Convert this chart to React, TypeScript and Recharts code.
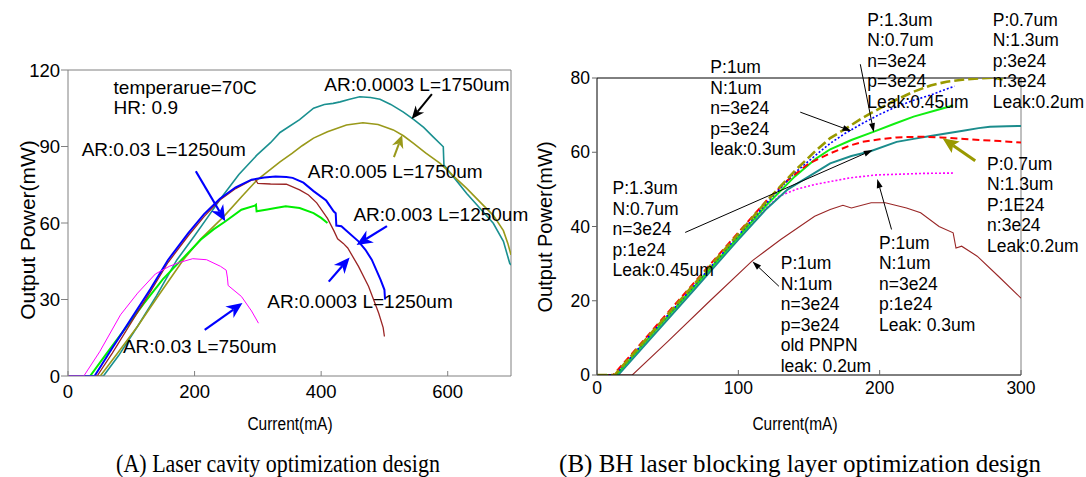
import { Line, LineChart, ReferenceDot, ReferenceLine, XAxis, YAxis } from "recharts";

const font = "'Liberation Sans', Arial, sans-serif";

// (A) laser cavity: current (mA) vs output power (mW)
const cavityTicksX = [0, 200, 400, 600];
const cavityTicksY = [0, 30, 60, 90, 120];

const ar0003L1750: [number, number][] = [
  [0, 0], [56, 0], [80, 8], [110, 19.5], [140, 31.5], [172, 45.5], [200, 55], [220, 62], [241, 69.5],
  [270, 79], [298, 86.5], [320, 91.5], [335, 95.5], [366, 100.5], [388, 105], [405, 106.5], [419, 106.9],
  [430, 107.5], [445, 108.5], [461, 109.5], [478, 109.2], [493, 108.5], [510, 106.5], [530, 103.5],
  [546, 100.6], [562, 97.5], [577, 93.8], [593, 89.9], [594, 82.7], [611, 77.5], [630, 71.6], [652, 65.5],
  [672, 59.9], [688, 52.8], [698, 44.2], [700, 43.5]
];
const ar005L1750: [number, number][] = [
  [0, 0], [51, 0], [80, 9.5], [110, 19.5], [140, 30.5], [182, 45.5], [210, 53.8], [246, 62.5], [275, 70.5],
  [298, 76.7], [320, 81], [335, 84], [354, 87.3], [370, 90.3], [388, 93.3], [410, 95.8], [440, 98.4],
  [466, 99.3], [490, 98.6], [514, 96.5], [530, 94.2], [546, 91.2], [565, 87.5], [588, 83.4], [610, 78.2],
  [630, 73.6], [652, 68], [672, 63], [688, 57], [695, 52], [700, 47.5]
];
const ar003L1250: [number, number][] = [
  [0, 0], [42, 0], [70, 11], [100, 22.5], [130, 34], [158, 45.5], [190, 56], [215, 63.5], [240, 69.5],
  [265, 74], [290, 77], [310, 77.8], [328, 78.2], [345, 78], [355, 77.7], [372, 75.8], [388, 72.5],
  [408, 68.8], [420, 64.5], [423, 63.8], [424, 59], [432, 58.7], [440, 57], [459, 52.8], [470, 49.5],
  [480, 45.6], [494, 37.7], [500, 33.8], [501, 30]
];
const ar0003L1250: [number, number][] = [
  [0, 0], [46, 0], [70, 9], [100, 21], [130, 33], [158, 44.5], [190, 55], [215, 62.5], [240, 69],
  [265, 73.5], [290, 76.8], [296, 77.1], [300, 75.5], [320, 75.3], [345, 75.2], [366, 73], [380, 71],
  [393, 67.9], [410, 61.8], [420, 57], [426, 53.8], [435, 52], [442, 50.2], [459, 43], [475, 35.1],
  [491, 24.6], [498, 19], [500, 15.5]
];
const ar03L1250: [number, number][] = [
  [0, 0], [35, 0], [60, 8.5], [90, 18.5], [120, 28.5], [150, 38], [183, 46.5], [210, 53.5], [230, 57.5],
  [249, 60.7], [274, 65.2], [295, 66.8], [297, 67.2], [298, 64.6], [315, 65.3], [328, 65.9], [344, 66.6],
  [366, 65.9], [388, 63.9], [400, 62], [410, 60]
];
const ar03L750: [number, number][] = [
  [0, 0], [25, 0], [50, 9.5], [83, 24], [110, 32.5], [138, 40], [160, 43], [176, 44.5], [197, 46],
  [219, 45.6], [241, 43], [250, 41.5], [252, 38.4], [253, 35.5], [274, 31.2], [290, 25.5], [301, 20.7]
];

const cavityNotes: { text: string; at: [number, number] }[] = [
  { text: "temperarue=70C", at: [72, 110.4] },
  { text: "HR: 0.9", at: [72, 102.6] },
  { text: "AR:0.0003 L=1750um", at: [405, 111.9] },
  { text: "AR:0.03 L=1250um", at: [21.6, 86.2] },
  { text: "AR:0.005 L=1750um", at: [379, 77.6] },
  { text: "AR:0.003 L=1250um", at: [451, 60.6] },
  { text: "AR:0.0003 L=1250um", at: [315, 26.6] },
  { text: "AR:0.03 L=750um", at: [86.8, 8.9] }
];
const cavityArrowBlack: [number, number][] = [[575, 110.5], [543, 100.8]];
const cavityArrowOlive: [number, number][] = [[515, 85.8], [528, 94.5]];
const cavityArrowsBlue: [number, number][][] = [
  [[202, 80.3], [248.5, 60.7]],
  [[504, 58.8], [456, 51.4]],
  [[412, 37], [445, 46.5]],
  [[216, 18.1], [275.7, 28.6]]
];

// (B) blocking layer: current (mA) vs output power (mW)
const blockTicksX = [0, 100, 200, 300];
const blockTicksY = [0, 20, 40, 60, 80];

const p07n13p3e24: [number, number][] = [
  [0, 0], [12.5, 0], [40, 12], [70, 25], [100, 38], [120, 46.8], [140, 55], [155, 60.5], [165, 63.8],
  [176.6, 66.5], [188, 69.3], [200, 71.8], [212, 74.2], [224, 76.3], [236, 78], [247.4, 79], [260, 79.6],
  [271, 79.9], [280, 80.1], [287, 79.6]
];
const p1n1leak03: [number, number][] = [
  [0, 0], [13, 0], [40, 11.8], [70, 24.6], [100, 37.6], [120, 46.3], [140, 54.5], [155, 59.3], [165, 62.4],
  [176, 65.2], [188, 67.8], [200, 70.2], [212, 72.3], [224, 74], [236, 75.4], [245, 76.7], [253, 77.8]
];
const p13n07p3e24: [number, number][] = [
  [0, 0], [13.5, 0], [40, 11.5], [70, 24.3], [100, 37.2], [120, 45.8], [140, 53.5], [155, 58.3], [165, 60.8],
  [180, 63.3], [195.5, 65.5], [210, 67.6], [224, 69.6], [240, 71.3], [252, 72.6]
];
const p07n13p1e24: [number, number][] = [
  [0, 0], [11.5, 0], [40, 12.4], [70, 25.4], [100, 38.4], [120, 47], [135, 52.5], [150, 57], [165, 59.7],
  [178.8, 61.8], [188, 62.8], [200, 63.5], [212, 64], [230, 64.2], [243, 64], [260, 63.6], [271, 63.3],
  [285, 63], [300, 62.6]
];
const p13n07p1e24: [number, number][] = [
  [0, 0], [15, 0], [40, 10.7], [70, 23.5], [100, 36.5], [120, 44.8], [135, 50], [150, 53.5], [165, 57],
  [180, 59], [193, 60.2], [212, 62.8], [224, 63.6], [236, 64.4], [248, 65.1], [259, 65.8], [270, 66.5],
  [278, 66.9], [290, 67], [300, 67.1]
];
const p1n1p1e24: [number, number][] = [
  [0, 0], [14, 0], [40, 11.2], [70, 24], [100, 37], [112, 42], [120, 45], [129, 48.2], [141, 50],
  [154, 51.3], [165, 52.1], [179, 53.1], [198, 53.9], [215, 54.1], [230, 54.3], [253, 54.4]
];
const oldPnpn: [number, number][] = [
  [0, 0], [25, 0], [50, 9], [80, 20], [110, 30.8], [130, 36.5], [154, 42.75], [165, 44.6], [174, 45.7],
  [180, 45], [194, 46.4], [204, 46.4], [219, 45], [229, 43.7], [242, 40], [252, 38.3], [254, 34.2],
  [258, 34.7], [269, 32], [284, 26.6], [300, 20.7]
];

const blockNotes: { lines: string[]; at: [number, number] }[] = [
  { lines: ["P:1um", "N:1um", "n=3e24", "p=3e24", "leak:0.3um"], at: [80.2, 81.3] },
  { lines: ["P:1.3um", "N:0.7um", "n=3e24", "p=3e24", "Leak:0.45um"], at: [191.3, 94.1] },
  { lines: ["P:0.7um", "N:1.3um", "p:3e24", "n:3e24", "Leak:0.2um"], at: [280, 94.1] },
  { lines: ["P:1.3um", "N:0.7um", "n=3e24", "p:1e24", "Leak:0.45um"], at: [11, 48.7] },
  { lines: ["P:0.7um", "N:1.3um", "P:1E24", "n:3e24", "Leak:0.2um"], at: [276, 55.3] },
  { lines: ["P:1um", "N:1um", "n=3e24", "p:1e24", "Leak: 0.3um"], at: [199.5, 34] },
  { lines: ["P:1um", "N:1um", "n=3e24", "p=3e24", "old PNPN", "leak: 0.2um"], at: [130, 28.5] }
];
const blockArrowsBlack: [number, number][][] = [
  [[143.8, 70.8], [180.1, 65.7]],
  [[186.3, 83.7], [195.8, 65.4]],
  [[62.4, 38.4], [195.1, 60.6]],
  [[208.4, 39.2], [198.3, 52.8]],
  [[128.7, 23.9], [110, 30.6]]
];
const blockArrowOlive: [number, number][] = [[267.6, 57.7], [244.5, 63.8]];

const toXY = (pts: [number, number][]) => pts.map(([x, y]) => ({ x, y }));

function arrow(color: string, width: number, headLen: number, headW: number, notch = 0) {
  return (p: any) => {
    const { x1, y1, x2, y2 } = p;
    const len = Math.hypot(x2 - x1, y2 - y1) || 1;
    const ux = (x2 - x1) / len;
    const uy = (y2 - y1) / len;
    const bx = x2 - ux * headLen;
    const by = y2 - uy * headLen;
    const nx = (-uy * headW) / 2;
    const ny = (ux * headW) / 2;
    const mx = bx + ux * headLen * notch;
    const my = by + uy * headLen * notch;
    return (
      <g>
        <line x1={x1} y1={y1} x2={mx} y2={my} stroke={color} strokeWidth={width} />
        <polygon points={`${x2},${y2} ${bx + nx},${by + ny} ${mx},${my} ${bx - nx},${by - ny}`} fill={color} />
      </g>
    );
  };
}

function note(lines: string[], size: number, lineHeight: number) {
  return (p: any) => (
    <text x={p.cx} y={p.cy} fontSize={size} fontFamily={font} fill="#000">
      {lines.map((l, i) => (
        <tspan key={i} x={p.cx} dy={i === 0 ? 0 : lineHeight}>
          {l}
        </tspan>
      ))}
    </text>
  );
}

// x ticks in the source point inwards (upwards from the axis)
function insideTick(margin: number, size: number, color: string) {
  return (p: any) => (
    <g>
      <line x1={p.x} x2={p.x} y1={p.y - margin} y2={p.y - margin - 5} stroke={color} />
      <text x={p.x} y={p.y} dy="0.71em" textAnchor="middle" fontSize={size} fontFamily={font} fill="#000">
        {p.payload.value}
      </text>
    </g>
  );
}

const cavitySeries = [
  { data: ar0003L1750, color: "#1a9090", width: 1.6 },
  { data: ar005L1750, color: "#99991a", width: 1.6 },
  { data: ar03L1250, color: "#00ee00", width: 2 },
  { data: ar0003L1250, color: "#9a2424", width: 1.3 },
  { data: ar003L1250, color: "#0000ff", width: 2 },
  { data: ar03L750, color: "#ff00ff", width: 1 }
];

const blockSeries = [
  { data: oldPnpn, color: "#992626", width: 1.1, dash: undefined },
  { data: p1n1p1e24, color: "#ff00ff", width: 1.6, dash: "2 2" },
  { data: p13n07p1e24, color: "#1b8c8c", width: 2, dash: undefined },
  { data: p13n07p3e24, color: "#11ee11", width: 2, dash: undefined },
  { data: p07n13p1e24, color: "#ff0000", width: 2, dash: "7 4" },
  { data: p1n1leak03, color: "#0000ff", width: 1.6, dash: "2 2" },
  { data: p07n13p3e24, color: "#999900", width: 2.6, dash: "10 4" }
];

function CavityChart() {
  return (
    <LineChart width={540} height={440} margin={{ top: 70, right: 29, bottom: 34, left: 8 }}>
      <XAxis
        type="number"
        dataKey="x"
        domain={[0, 700]}
        ticks={cavityTicksX}
        interval={0}
        allowDataOverflow
        height={30}
        tickSize={0}
        tickMargin={9}
        tickLine={false}
        axisLine={{ stroke: "#808080" }}
        tick={insideTick(9, 18.5, "#808080")}
      />
      <YAxis
        type="number"
        domain={[0, 120]}
        ticks={cavityTicksY}
        interval={0}
        allowDataOverflow
        width={60}
        tickSize={7}
        tickMargin={1}
        axisLine={{ stroke: "#808080" }}
        tickLine={{ stroke: "#808080" }}
        tick={{ fill: "#000", fontSize: 18.5, fontFamily: font }}
      />
      <ReferenceLine y={120} stroke="#808080" />
      <ReferenceLine x={700} stroke="#808080" />
      {cavitySeries.map((s, i) => (
        <Line
          key={i}
          data={toXY(s.data)}
          dataKey="y"
          type="linear"
          stroke={s.color}
          strokeWidth={s.width}
          dot={false}
          isAnimationActive={false}
        />
      ))}
      {cavityNotes.map((n, i) => (
        <ReferenceDot key={i} x={n.at[0]} y={n.at[1]} ifOverflow="visible" shape={note([n.text], 19, 20)} />
      ))}
      <ReferenceLine segment={toXY(cavityArrowBlack)} ifOverflow="visible" shape={arrow("#000", 2, 13, 11, 0.3)} />
      <ReferenceLine segment={toXY(cavityArrowOlive)} ifOverflow="visible" shape={arrow("#99991a", 2, 13, 12, 0.3)} />
      {cavityArrowsBlue.map((a, i) => (
        <ReferenceLine key={i} segment={toXY(a)} ifOverflow="visible" shape={arrow("#0000ff", 2.2, 16, 14, 0.3)} />
      ))}
    </LineChart>
  );
}

function BlockChart() {
  return (
    <LineChart width={546} height={440} margin={{ top: 78, right: 65, bottom: 35, left: 7 }}>
      <XAxis
        type="number"
        dataKey="x"
        domain={[0, 300]}
        ticks={blockTicksX}
        interval={0}
        allowDataOverflow
        height={30}
        tickSize={0}
        tickMargin={7}
        tickLine={false}
        axisLine={{ stroke: "#000" }}
        tick={insideTick(7, 17.5, "#666")}
      />
      <YAxis
        type="number"
        domain={[0, 80]}
        ticks={blockTicksY}
        interval={0}
        allowDataOverflow
        width={50}
        tickSize={5}
        tickMargin={2}
        axisLine={{ stroke: "#000" }}
        tickLine={{ stroke: "#666" }}
        tick={{ fill: "#000", fontSize: 17.5, fontFamily: font }}
      />
      <ReferenceLine y={80} stroke="#000" />
      <ReferenceLine x={300} stroke="#808080" />
      {blockSeries.map((s, i) => (
        <Line
          key={i}
          data={toXY(s.data)}
          dataKey="y"
          type="linear"
          stroke={s.color}
          strokeWidth={s.width}
          strokeDasharray={s.dash}
          dot={false}
          isAnimationActive={false}
        />
      ))}
      {blockNotes.map((n, i) => (
        <ReferenceDot key={i} x={n.at[0]} y={n.at[1]} ifOverflow="visible" shape={note(n.lines, 17.5, 20.5)} />
      ))}
      {blockArrowsBlack.map((a, i) => (
        <ReferenceLine key={i} segment={toXY(a)} ifOverflow="visible" shape={arrow("#000", 1, 9, 6)} />
      ))}
      <ReferenceLine segment={toXY(blockArrowOlive)} ifOverflow="visible" shape={arrow("#999900", 3, 16, 14, 0.2)} />
    </LineChart>
  );
}

const abs = (left: number, top: number): React.CSSProperties => ({ position: "absolute", left, top });

export default function App() {
  return (
    <div style={{ position: "absolute", left: 0, top: 0, width: 1086, height: 477, background: "#fff", overflow: "hidden" }}>
      <div style={abs(0, 0)}>
        <CavityChart />
      </div>
      <div style={abs(540, 0)}>
        <BlockChart />
      </div>
      <div style={{ ...abs(28, 230), transform: "translate(-50%, -50%) rotate(-90deg)", fontFamily: font, fontSize: 21, whiteSpace: "nowrap" }}>
        Output Power(mW)
      </div>
      <div style={{ ...abs(545, 227), transform: "translate(-50%, -50%) rotate(-90deg)", fontFamily: font, fontSize: 20, whiteSpace: "nowrap" }}>
        Output Power(mW)
      </div>
      <div style={{ ...abs(290, 424), transform: "translate(-50%, -50%) scaleX(0.86)", fontFamily: font, fontSize: 18, whiteSpace: "nowrap" }}>
        Current(mA)
      </div>
      <div style={{ ...abs(795, 424), transform: "translate(-50%, -50%) scaleX(0.86)", fontFamily: font, fontSize: 18, whiteSpace: "nowrap" }}>
        Current(mA)
      </div>
      <div style={{ ...abs(278, 464), transform: "translate(-50%, -50%) scaleX(0.88)", fontFamily: "'Liberation Serif', serif", fontSize: 25, whiteSpace: "nowrap" }}>
        (A) Laser cavity optimization design
      </div>
      <div style={{ ...abs(800, 464), transform: "translate(-50%, -50%)", fontFamily: "'Liberation Serif', serif", fontSize: 25, whiteSpace: "nowrap" }}>
        (B) BH laser blocking layer optimization design
      </div>
    </div>
  );
}
